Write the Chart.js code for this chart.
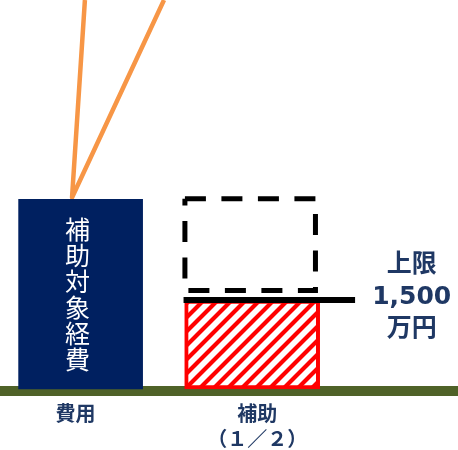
<!DOCTYPE html>
<html lang="ja">
<head>
<meta charset="utf-8">
<title>補助対象経費と補助</title>
<script src="https://cdn.jsdelivr.net/npm/chart.js@4/dist/chart.umd.min.js"></script>
<style>
  html, body { margin: 0; padding: 0; background: #fff; }
  #wrap { width: 458px; height: 450px; }
</style>
</head>
<body>
<div id="wrap"><canvas id="subsidyChart"></canvas></div>
<script>
// values in 万円, x is the column position (費用 = 1, 補助 = 2)
const categories = ['費用', ['補助', '（１／２）']];
const categoryX = [0.97, 2.03];
const barX = [1, 2];
const costLabel = '補助対象経費';
const costValue = 3200;
const subsidyValue = 1500;
const halfX = [1.608, 2.369];      // dashed box: the half above the cap
const halfRange = [1660, 3210];
const capValue = 1500;
const capX = [1.6, 2.6];
const capLabel = ['上限', '1,500', '万円'];
const capLabelX = 2.93;
const leaderX = [1.025, 0.95, 1.486];
const leaderY = [6560, 3230, 6560];
const xMin = 0.53, xMax = 3.2;
const yMin = -34, yMax = 6560;

const NAVY = '#002060';
const TEXT = '#1F3864';
const FONT = '"DejaVu Sans", "Noto Sans CJK JP", sans-serif';

var canvas = document.getElementById('subsidyChart');
var ctx = canvas.getContext('2d');

const makeHatch = () => {
    var size = 14;
    var tile = document.createElement('canvas');
    tile.width = size;
    tile.height = size;
    var g = tile.getContext('2d');
    g.fillStyle = '#ffffff';
    g.fillRect(0, 0, size, size);
    g.strokeStyle = '#ff0000';
    g.lineWidth = 4.2;
    g.beginPath();
    g.moveTo(-3, size + 3); g.lineTo(size + 3, -3);
    g.moveTo(-3, 3); g.lineTo(3, -3);
    g.moveTo(size - 3, size + 3); g.lineTo(size + 3, size - 3);
    g.stroke();
    return ctx.createPattern(tile, 'repeat');
};

const boxPoints = [
    { x: halfX[0], y: halfRange[1] },
    { x: halfX[1], y: halfRange[1] },
    { x: halfX[1], y: halfRange[0] },
    { x: halfX[0], y: halfRange[0] },
    { x: halfX[0], y: halfRange[1] }
];

const leaderPoints = leaderX.map((x, i) => ({ x: x, y: leaderY[i] }));

// vertical label inside the navy bar and the cap note on the right
const textPlugin = {
    id: 'textPlugin',
    afterDatasetsDraw(chart) {
        var c = chart.ctx;
        var x = chart.scales.x;
        var y = chart.scales.y;
        var bar = chart.getDatasetMeta(0).data[0];
        var chars = costLabel.split('');
        var mid = (bar.y + bar.base) / 2;
        var step = 26;
        c.save();
        c.fillStyle = '#ffffff';
        c.font = '25px "Noto Sans CJK JP", sans-serif';
        c.textAlign = 'center';
        c.textBaseline = 'middle';
        chars.forEach(function (ch, i) {
            c.fillText(ch, bar.x - 3, mid + (i - (chars.length - 1) / 2) * step);
        });

        var cx = x.getPixelForValue(capLabelX);
        var cy = y.getPixelForValue(capValue) - 3;
        c.fillStyle = TEXT;
        c.font = 'bold 25px ' + FONT;
        capLabel.forEach(function (line, i) {
            c.fillText(line, cx, cy + (i - 1) * 32);
        });
        c.restore();
    }
};

new Chart(canvas, {
    type: 'bar',
    data: {
        datasets: [
            {
                label: costLabel,
                data: [{ x: barX[0], y: costValue }],
                backgroundColor: NAVY,
                barThickness: 124,
                order: 2
            },
            {
                label: '補助',
                data: [{ x: barX[1], y: subsidyValue }],
                backgroundColor: makeHatch(),
                borderColor: '#ff0000',
                borderWidth: 4,
                borderSkipped: false,
                barThickness: 135,
                order: 3
            },
            {
                type: 'line',
                label: '上限',
                data: [{ x: capX[0], y: capValue }, { x: capX[1], y: capValue }],
                borderColor: '#000000',
                borderWidth: 6,
                borderCapStyle: 'butt',
                pointRadius: 0,
                order: 0
            },
            {
                type: 'line',
                label: '1/2',
                data: boxPoints,
                borderColor: '#000000',
                borderWidth: 5,
                borderDash: [21, 15.5],
                borderCapStyle: 'butt',
                borderJoinStyle: 'miter',
                pointRadius: 0,
                tension: 0,
                order: 1
            },
            {
                type: 'line',
                label: 'leader',
                data: leaderPoints,
                borderColor: '#F79646',
                borderWidth: 4.5,
                borderJoinStyle: 'round',
                pointRadius: 0,
                tension: 0,
                order: 5
            }
        ]
    },
    options: {
        responsive: true,
        maintainAspectRatio: false,
        devicePixelRatio: 1,
        animation: false,
        layout: { padding: 0 },
        scales: {
            x: {
                type: 'linear',
                min: xMin,
                max: xMax,
                offset: false,
                stacked: true,
                grid: { display: false, drawTicks: false, offset: false },
                border: { display: true, color: '#4F6228', width: 10 },
                afterBuildTicks: function (scale) {
                    scale.ticks = categoryX.map(v => ({ value: v }));
                },
                afterFit: function (scale) {
                    scale.height = 59;
                },
                ticks: {
                    autoSkip: false,
                    maxRotation: 0,
                    minRotation: 0,
                    padding: 12,
                    color: TEXT,
                    font: { size: 20, weight: 'bold', family: FONT, lineHeight: '25px' },
                    callback: function (value, index) {
                        return categories[index];
                    }
                }
            },
            y: {
                display: false,
                stacked: false,
                min: yMin,
                max: yMax
            }
        },
        plugins: {
            legend: { display: false },
            tooltip: { enabled: false }
        }
    },
    plugins: [textPlugin]
});
</script>
</body>
</html>
